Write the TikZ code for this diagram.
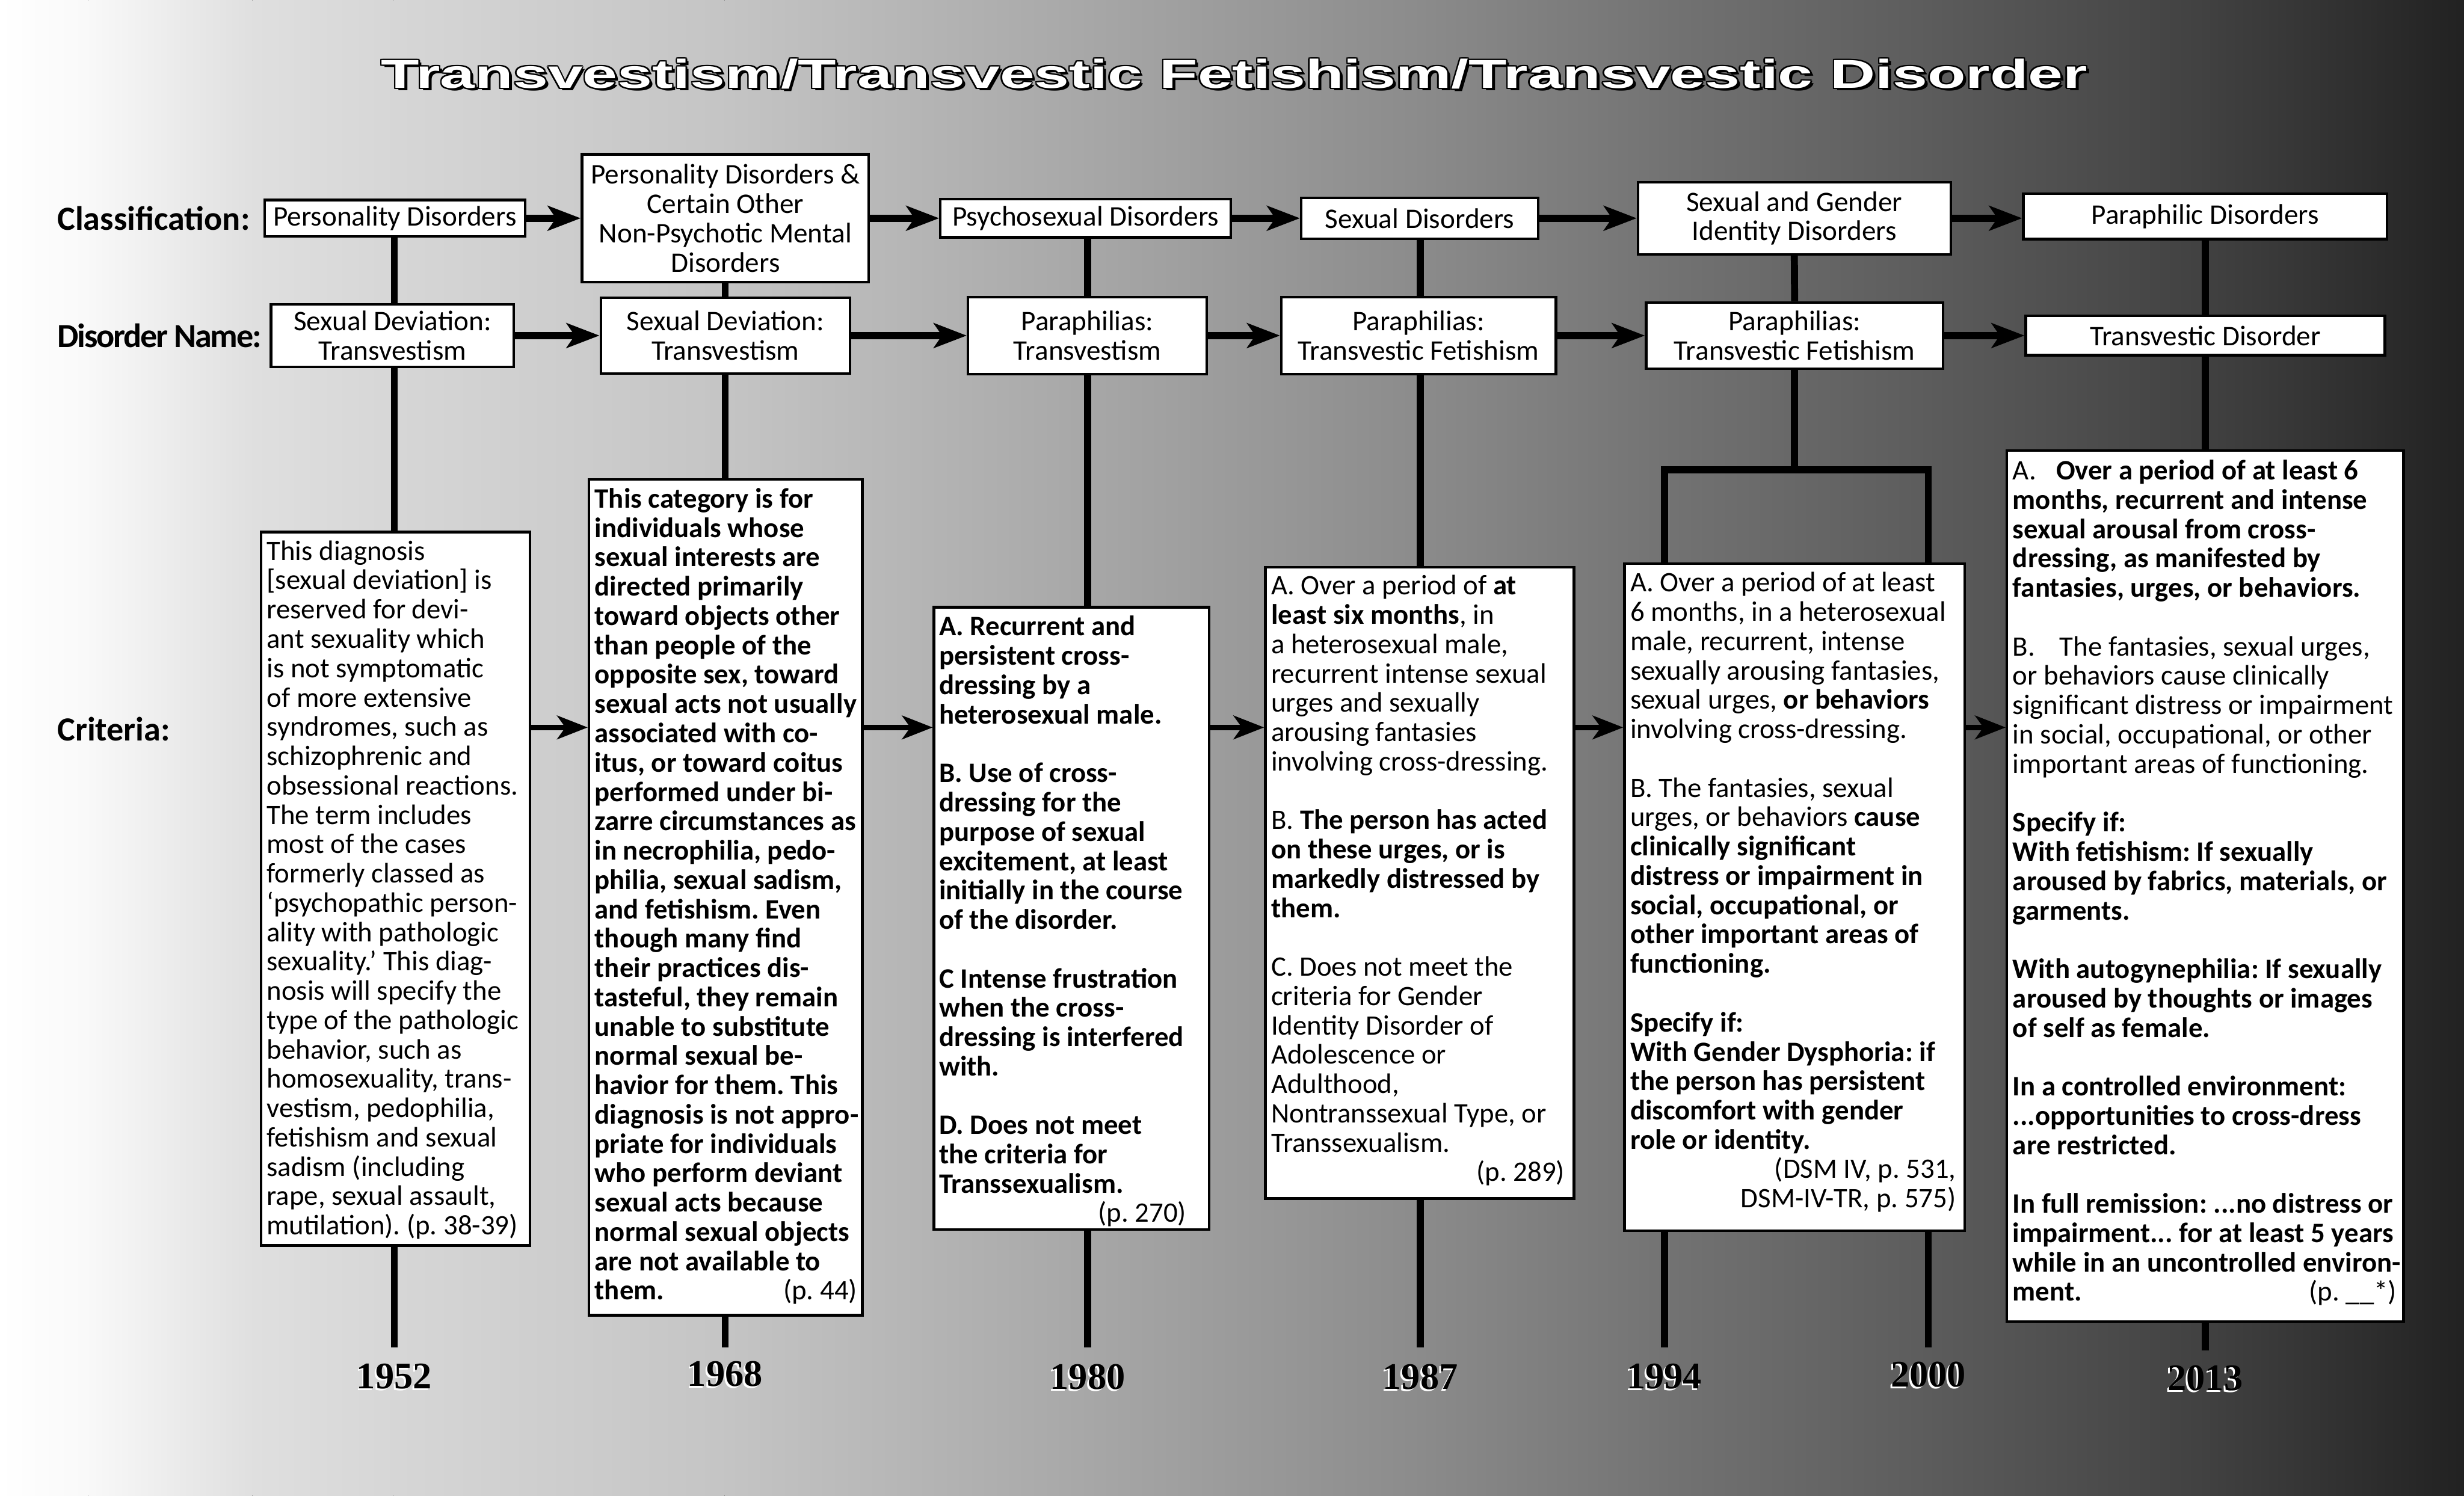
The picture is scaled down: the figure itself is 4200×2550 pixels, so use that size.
\documentclass[tikz,border=0pt]{standalone}
\usepackage{fontspec}
\setmainfont{Carlito}
\newfontfamily\titlefont{Liberation Sans}
\newfontfamily\yearfont{Liberation Serif}
\usepackage{graphicx}
\usetikzlibrary{arrows.meta}
\frenchspacing
\newcommand\ttltxt{\resizebox*{727pt}{12.8pt}{\titlefont\bfseries Transvestism/Transvestic Fetishism/Transvestic Disorder}}
\newcommand\bl{\\[12.5pt]}
\begin{document}
\begin{tikzpicture}[x=0.25pt,y=-0.25pt,
  bx/.style={draw=black,line width=1.1pt,fill=white,inner sep=0pt},
  cls/.style={bx,align=center,font=\fontsize{12.1}{12.5}\selectfont},
  ctext/.style={anchor=north west,inner sep=0pt,align=left,font=\fontsize{12.0}{12.5}\selectfont},
  pref/.style={anchor=base east,inner sep=0pt,font=\fontsize{12.0}{12.5}\selectfont},
  conn/.style={line width=3pt},
  arr/.style={line width=3pt,-{Stealth[length=14pt,width=10.5pt,inset=3.5pt]}},
  carr/.style={line width=2.3pt,-{Stealth[length=13pt,width=10pt,inset=3.5pt]}},
  lab/.style={anchor=west,inner sep=0pt,font=\fontsize{14.4}{15}\selectfont\bfseries},
  yr/.style={inner sep=0pt,font=\yearfont\bfseries\fontsize{16}{18}\selectfont}
]
\useasboundingbox (0,0) rectangle (4200,2550);
% background gradient
\foreach \xa/\ga/\xb/\gb [count=\i] in {0/1.00/150/0.975, 150/0.975/430/0.875, 430/0.875/670/0.84, 670/0.84/1235/0.77, 1235/0.77/1854/0.655, 1854/0.655/2422/0.545, 2422/0.545/2837/0.45, 2837/0.45/3287/0.36, 3287/0.36/3758/0.255, 3758/0.255/4050/0.175, 4050/0.175/4200/0.13} {
  \definecolor{ca\i}{gray}{\ga}\definecolor{cb\i}{gray}{\gb}
  \fill[left color=ca\i,right color=cb\i] (\xa,0) rectangle (\xb+3,2550);
}
% title
\foreach \dx/\dy [count=\i] in {5/4, -2.5/0, 2.5/0, 0/-2.5, 0/2.5, -2/-2, 2/-2, -2/2, 2/2}
  \node[inner sep=0pt,text=black] (ttl\i) at (2104+\dx,126+\dy) {\ttltxt};
\node[inner sep=0pt,text=white] (ttl) at (2104,126) {\ttltxt};
% row labels
\node[lab] (lcls) at (97,372) {Classification:};
\node[lab] (lname) at (97,572) {\addfontfeature{LetterSpace=-4}Disorder Name:};
\node[lab] (lcrit) at (97,1243) {Criteria:};
% classification boxes
\node[cls,minimum width=111pt,minimum height=15.5pt] (C1) at (673,372) {Personality Disorders};
\node[cls,minimum width=122.25pt,minimum height=54.5pt] (C2) at (1236.5,372) {Personality Disorders \&\\Certain Other\\Non-Psychotic Mental\\Disorders};
\node[cls,minimum width=123.75pt,minimum height=16.25pt] (C3) at (1850.5,372) {Psychosexual Disorders};
\node[cls,minimum width=101pt,minimum height=17.5pt] (C4) at (2420,372) {Sexual Disorders};
\node[cls,minimum width=133.25pt,minimum height=30.75pt] (C5) at (3058.5,372) {Sexual and Gender\\Identity Disorders};
\node[cls,minimum width=155pt,minimum height=19.25pt] (C6) at (3759,369) {Paraphilic Disorders};
% disorder name boxes
\node[cls,minimum width=103.5pt,minimum height=26.75pt] (N1) at (669,572) {Sexual Deviation:\\Transvestism};
\node[cls,minimum width=106.25pt,minimum height=32.25pt] (N2) at (1236.5,572) {Sexual Deviation:\\Transvestism};
\node[cls,minimum width=101.75pt,minimum height=32.75pt] (N3) at (1853.5,572) {Paraphilias:\\Transvestism};
\node[cls,minimum width=117pt,minimum height=32.75pt] (N4) at (2418,572) {Paraphilias:\\Transvestic Fetishism};
\node[cls,minimum width=126.5pt,minimum height=28.25pt] (N5) at (3059,572) {Paraphilias:\\Transvestic Fetishism};
\node[cls,minimum width=153pt,minimum height=16.75pt] (N6) at (3759,572) {Transvestic Disorder};
% criteria boxes
\node[bx,minimum width=114.5pt,minimum height=304pt] (K1) at (674,1515) {};
\node[bx,minimum width=116.5pt,minimum height=356.25pt] (K2) at (1237,1529.5) {};
\node[bx,minimum width=117.25pt,minimum height=265.25pt] (K3) at (1826.5,1565.5) {};
\node[bx,minimum width=131.5pt,minimum height=269pt] (K4) at (2420,1505) {};
\node[bx,minimum width=145pt,minimum height=284.25pt] (K5) at (3059,1529.5) {};
\node[bx,minimum width=169pt,minimum height=371.25pt] (K6) at (3759,1510.5) {};
% year coordinates and fork
\coordinate (t1952) at (672,2297);
\coordinate (t1968) at (1236,2297);
\coordinate (t1980) at (1854,2297);
\coordinate (t1987) at (2421,2297);
\coordinate (t1994) at (2837,2297);
\coordinate (t2000) at (3287,2297);
\coordinate (t2013) at (3759,2302);
\coordinate (fork) at (3059,801);
\coordinate (cy) at (0,1240);
% vertical connectors
\foreach \c/\n/\k/\t in {C1/N1/K1/t1952, C2/N2/K2/t1968, C3/N3/K3/t1980, C4/N4/K4/t1987, C6/N6/K6/t2013} {
  \draw[conn] (\c.south -| \t) -- (\n.north -| \t);
  \draw[conn] (\n.south -| \t) -- (\k.north -| \t);
  \draw[conn] (\k.south -| \t) -- (\t);
}
\draw[conn] (C5.south) -- (N5.north);
\draw[conn] (N5.south) -- (fork);
\draw[conn,line join=miter] (K5.north -| t1994) -- (fork -| t1994) -- (fork -| t2000) -- (K5.north -| t2000);
\draw[conn] (K5.south -| t1994) -- (t1994);
\draw[conn] (K5.south -| t2000) -- (t2000);
% horizontal arrows
\draw[arr] (C1.east |- C2) -- (C2.west);
\draw[arr] (C2.east) -- (C3.west |- C2);
\draw[arr] (C3.east) -- (C4.west |- C3);
\draw[arr] (C4.east) -- (C5.west |- C4);
\draw[arr] (C5.east) -- (C6.west |- C5);
\draw[arr] (N1.east) -- (N2.west);
\draw[arr] (N2.east) -- (N3.west);
\draw[arr] (N3.east) -- (N4.west);
\draw[arr] (N4.east) -- (N5.west);
\draw[arr] (N5.east) -- (N6.west);
\draw[carr] (K1.east |- cy) -- (K2.west |- cy);
\draw[carr] (K2.east |- cy) -- (K3.west |- cy);
\draw[carr] (K3.east |- cy) -- (K4.west |- cy);
\draw[carr] (K4.east |- cy) -- (K5.west |- cy);
\draw[carr] (K5.east |- cy) -- (K6.west |- cy);
% criteria texts
\node[ctext] (x1) at (454,914) {\rule{0pt}{10pt}This diagnosis\\
{[}sexual deviation{]} is\\
reserved for devi-\\
ant sexuality which\\
is not symptomatic\\
of more extensive\\
syndromes, such as\\
schizophrenic and\\
obsessional reactions.\\
The term includes\\
most of the cases\\
formerly classed as\\
‘psychopathic person-\\
ality with pathologic\\
sexuality.’ This diag-\\
nosis will specify the\\
type of the pathologic\\
behavior, such as\\
homosexuality, trans-\\
vestism, pedophilia,\\
fetishism and sexual\\
sadism (including\\
rape, sexual assault,\\
mutilation). (p. 38-39)};
\node[ctext,font=\fontsize{12.0}{12.5}\selectfont\bfseries] (x2) at (1013,825) {\rule{0pt}{10pt}This category is for\\
individuals whose\\
sexual interests are\\
directed primarily\\
toward objects other\\
than people of the\\
opposite sex, toward\\
sexual acts not usually\\
associated with co-\\
itus, or toward coitus\\
performed under bi-\\
zarre circumstances as\\
in necrophilia, pedo-\\
philia, sexual sadism,\\
and fetishism. Even\\
though many find\\
their practices dis-\\
tasteful, they remain\\
unable to substitute\\
normal sexual be-\\
havior for them. This\\
diagnosis is not appro-\\
priate for individuals\\
who perform deviant\\
sexual acts because\\
normal sexual objects\\
are not available to\\
them.};
\node[pref] (p2) at (1462,2215) {(p. 44)};
\node[ctext,font=\fontsize{12.0}{12.5}\selectfont\bfseries] (x3) at (1600,1043) {\rule{0pt}{10pt}A. Recurrent and\\
persistent cross-\\
dressing by a\\
heterosexual male.\bl
B. Use of cross-\\
dressing for the\\
purpose of sexual\\
excitement, at least\\
initially in the course\\
of the disorder.\bl
C Intense frustration\\
when the cross-\\
dressing is interfered\\
with.\bl
D. Does not meet\\
the criteria for\\
Transsexualism.};
\node[pref] (p3) at (2023,2083) {(p. 270)};
\node[ctext] (x4) at (2166,973) {\rule{0pt}{10pt}A. Over a period of \textbf{at}\\
\textbf{least six months}, in\\
a heterosexual male,\\
recurrent intense sexual\\
urges and sexually\\
arousing fantasies\\
involving cross-dressing.\bl
B. \textbf{The person has acted}\\
\textbf{on these urges, or is}\\
\textbf{markedly distressed by}\\
\textbf{them.}\bl
C. Does not meet the\\
criteria for Gender\\
Identity Disorder of\\
Adolescence or\\
Adulthood,\\
Nontranssexual Type, or\\
Transsexualism.};
\node[pref] (p4) at (2668,2013) {(p. 289)};
\node[ctext] (x5) at (2778,968) {\rule{0pt}{10pt}A. Over a period of at least\\
6 months, in a heterosexual\\
male, recurrent, intense\\
sexually arousing fantasies,\\
sexual urges, \textbf{or behaviors}\\
involving cross-dressing.\bl
B. The fantasies, sexual\\
urges, or behaviors \textbf{cause}\\
\textbf{clinically significant}\\
\textbf{distress or impairment in}\\
\textbf{social, occupational, or}\\
\textbf{other important areas of}\\
\textbf{functioning.}\bl
\textbf{Specify if:}\\
\textbf{With Gender Dysphoria: if}\\
\textbf{the person has persistent}\\
\textbf{discomfort with gender}\\
\textbf{role or identity.}};
\node[pref] (p5a) at (3335,2008) {(DSM IV, p. 531,};
\node[pref] (p5b) at (3335,2058) {DSM-IV-TR, p. 575)};
\node[ctext] (x6) at (3430,777) {\rule{0pt}{10pt}\makebox[18.5pt][l]{A.}\textbf{Over a period of at least 6}\\
\textbf{months, recurrent and intense}\\
\textbf{sexual arousal from cross-}\\
\textbf{dressing, as manifested by}\\
\textbf{fantasies, urges, or behaviors.}\bl
\makebox[20pt][l]{B.}The fantasies, sexual urges,\\
or behaviors cause clinically\\
significant distress or impairment\\
in social, occupational, or other\\
important areas of functioning.\bl
\textbf{Specify if:}\\
\textbf{With fetishism: If sexually}\\
\textbf{aroused by fabrics, materials, or}\\
\textbf{garments.}\bl
\textbf{With autogynephilia: If sexually}\\
\textbf{aroused by thoughts or images}\\
\textbf{of self as female.}\bl
\textbf{In a controlled environment:}\\
\textbf{...opportunities to cross-dress}\\
\textbf{are restricted.}\bl
\textbf{In full remission: ...no distress or}\\
\textbf{impairment... for at least 5 years}\\
\textbf{while in an uncontrolled environ-}\\
\textbf{ment.}};
\node[pref] (p6) at (4086,2217) {(p. \_\_*)};
% years
\foreach \yy/\xx/\yo in {1952/672/2346, 1968/1236/2342, 1980/1854/2347, 1987/2421/2347, 1994/2837/2346, 2000/3287/2343, 2013/3759/2349} {
  \node[yr,text=white] (ys\yy) at (\xx-3,\yo+3) {\yy};
  \node[yr,text=black] (y\yy) at (\xx,\yo) {\yy};
}
\end{tikzpicture}
\end{document}
